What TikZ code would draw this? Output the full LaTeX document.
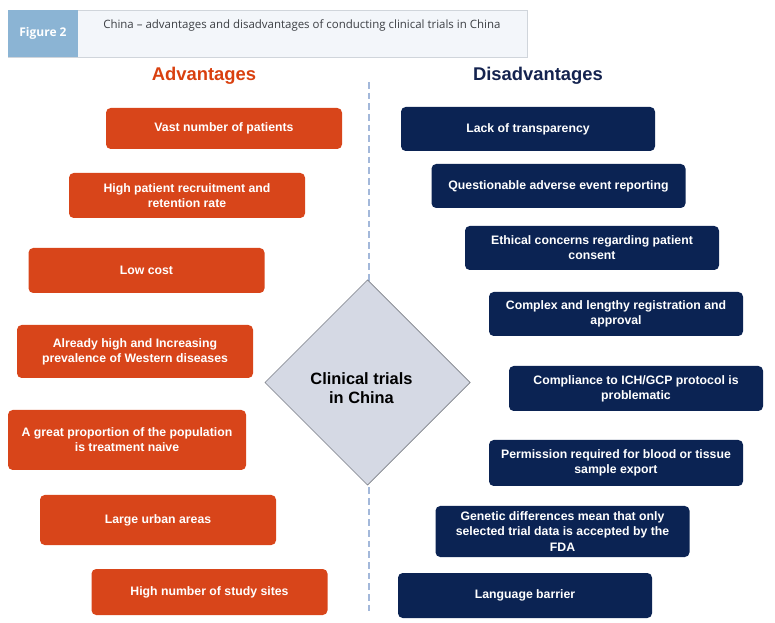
\documentclass[tikz,border=0pt]{standalone}
\usepackage{fontspec}
\setmainfont{Liberation Sans}
\newfontfamily\hdrfont{Open Sans}
\usetikzlibrary{shapes.geometric}
\definecolor{advred}{HTML}{D8451A}
\definecolor{advtitle}{HTML}{D9400F}
\definecolor{disnavy}{HTML}{0B2353}
\definecolor{distitle}{HTML}{14234F}
\definecolor{figblue}{HTML}{8BB4D4}
\definecolor{hdrbg}{HTML}{F3F6FA}
\definecolor{hdrline}{HTML}{D0D5DB}
\definecolor{hdrtext}{HTML}{3C3F44}
\definecolor{dashblue}{HTML}{A3B8DA}
\definecolor{diafill}{HTML}{D5D9E4}
\definecolor{diadraw}{HTML}{7A7E86}
\tikzset{
  boxbase/.style={rounded corners=3.5pt, inner sep=2pt, align=center, text=white,
    font=\bfseries\fontsize{9.2}{11.3}\selectfont},
  advbox/.style={boxbase, fill=advred, minimum width=177pt},
  disbox/.style={boxbase, fill=disnavy, minimum width=190.5pt},
  coltitle/.style={font=\bfseries\fontsize{13.8}{16}\selectfont},
}
\begin{document}
\begin{tikzpicture}[x=0.75pt,y=-0.75pt]
\useasboundingbox (0,0) rectangle (775,623);
% header
\fill[hdrbg,draw=hdrline,line width=0.6pt] (8,10) rectangle (527,57);
\fill[figblue] (8,10) rectangle (78,57);
\node[text=white, font=\hdrfont\bfseries\fontsize{9}{11}\selectfont] (fig) at (43,33) {Figure 2};
\node[anchor=west, inner sep=0pt, text=hdrtext, font=\hdrfont\fontsize{8.6}{10}\selectfont] (title) at (103,25) {China – advantages and disadvantages of conducting clinical trials in China};
% column titles
\node[coltitle, text=advtitle] (advt) at (204,76) {Advantages};
\node[coltitle, text=distitle] (dist) at (538,76) {Disadvantages};
% dashed divider
\coordinate (dtop) at (369,82);
\coordinate (dbot) at (369,614);
\draw[dashblue, line width=0.8pt, dash pattern=on 5pt off 3pt] (dtop) -- (dbot);
% advantages
\node[advbox, minimum height=30.75pt] (a1) at (224,128.5) {Vast number of patients};
\node[advbox, minimum height=33.75pt] (a2) at (187,195.5) {High patient recruitment and\\retention rate};
\node[advbox, minimum height=33.75pt] (a3) at (146.5,270.5) {Low cost};
\node[advbox, minimum height=39.75pt] (a4) at (135,351.5) {Already high and Increasing\\prevalence of Western diseases};
\node[advbox, minimum height=45pt, minimum width=178.5pt] (a5) at (127,440) {A great proportion of the population\\is treatment naive};
\node[advbox, minimum height=37.5pt] (a6) at (158,520) {Large urban areas};
\node[advbox, minimum height=34.5pt] (a7) at (209.5,592) {High number of study sites};
% disadvantages
\node[disbox, minimum height=33pt] (d1) at (528,129) {Lack of transparency};
\node[disbox, minimum height=33pt] (d2) at (558.5,186) {Questionable adverse event reporting};
\node[disbox, minimum height=33pt] (d3) at (592,248) {Ethical concerns regarding patient\\consent};
\node[disbox, minimum height=33pt] (d4) at (616,314) {Complex and lengthy registration and\\approval};
\node[disbox, minimum height=33.75pt] (d5) at (636,388.5) {Compliance to ICH/GCP protocol is\\problematic};
\node[disbox, minimum height=34.5pt] (d6) at (616,463) {Permission required for blood or tissue\\sample export};
\node[disbox, minimum height=38.25pt] (d7) at (562.5,531.5) {Genetic differences mean that only\\selected trial data is accepted by the\\FDA};
\node[disbox, minimum height=33.75pt] (d8) at (525,595.5) {Language barrier};
% centre diamond
\node[diamond, aspect=1, inner sep=0pt, minimum width=154pt, minimum height=154pt,
  fill=diafill, draw=diadraw, line width=0.5pt] (ctr) at (367.5,382.5) {};
\node[align=center, font=\bfseries\fontsize{12.3}{14.3}\selectfont] (ctrtext) at (361.5,388) {Clinical trials\\in China};
\end{tikzpicture}
\end{document}
